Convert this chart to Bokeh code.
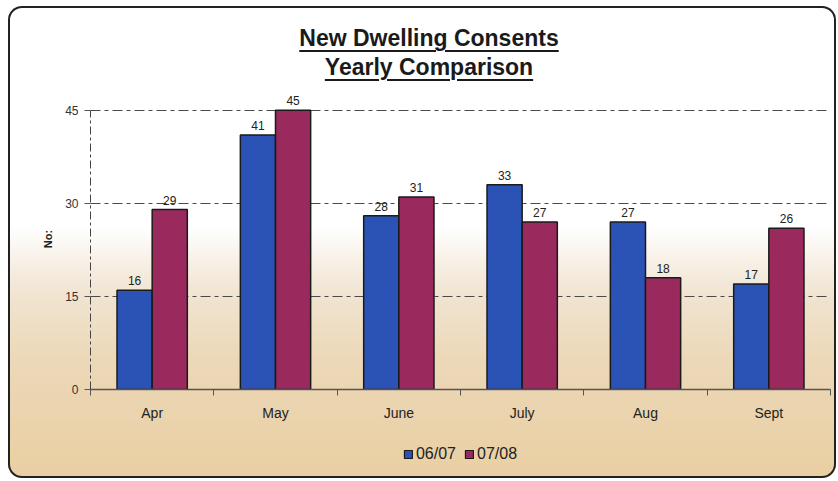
import numpy as np
from bokeh.plotting import figure
from bokeh.layouts import column
from bokeh.models import (ColumnDataSource, FixedTicker, LabelSet, Legend, LegendItem,
                          Range1d, Div)
from bokeh.core.properties import value
from bokeh.embed import file_html
from bokeh.resources import INLINE

# Monthly new dwelling consents, two consecutive years
months = ["Apr", "May", "June", "July", "Aug", "Sept"]
consents_0607 = [16, 41, 28, 33, 27, 17]
consents_0708 = [29, 45, 31, 27, 18, 26]
series_labels = ["06/07", "07/08"]
y_ticks = [0, 15, 30, 45]
title_lines = ["New Dwelling Consents", "Yearly Comparison"]

BLUE = "#2b52b5"
MAROON = "#9a2a5e"
OUTLINE = "#1a1a1a"
FONT = "Liberation Sans"

centers = np.arange(len(months)) + 0.5
bar_w = 0.285

src_a = ColumnDataSource(dict(x=centers - bar_w / 2, top=consents_0607,
                              lbl=[str(v) for v in consents_0607]))
src_b = ColumnDataSource(dict(x=centers + bar_w / 2, top=consents_0708,
                              lbl=[str(v) for v in consents_0708]))

# headline block above the chart, each line underlined
u_style = ("text-decoration: underline; text-decoration-thickness: 2px; "
           "text-underline-offset: 4px;")
title = Div(
    text="<br>".join(f'<span style="{u_style}">{t}</span>' for t in title_lines),
    width=828, height=72,
    styles={
        "font-family": FONT, "font-weight": "bold", "font-size": "23px",
        "line-height": "29px", "color": "#1a1a1a", "text-align": "center",
        "padding-top": "13px", "padding-left": "4px",
        "box-sizing": "border-box", "width": "828px",
    },
)

p = figure(width=828, height=337, x_range=Range1d(0, len(months)), y_range=Range1d(0, 48.5),
           output_backend="svg", toolbar_location=None,
           min_border_left=82, min_border_right=6, min_border_top=0, min_border_bottom=36)
p.border_fill_alpha = 0
p.background_fill_alpha = 0
p.outline_line_color = None

# bars
p.vbar(x="x", top="top", width=bar_w, source=src_a, fill_color=BLUE,
       line_color=OUTLINE, line_width=1.5)
p.vbar(x="x", top="top", width=bar_w, source=src_b, fill_color=MAROON,
       line_color=OUTLINE, line_width=1.5)

for src in (src_a, src_b):
    p.add_layout(LabelSet(x="x", y="top", text="lbl", source=src, text_align="center",
                          text_baseline="bottom", y_offset=5, text_font=value(FONT),
                          text_font_size=value("12px"), text_color=value("#222222")))

# x axis: month names at centres, tick marks between months
xa = p.xaxis[0]
xa.ticker = FixedTicker(ticks=list(centers), minor_ticks=list(range(len(months) + 1)))
xa.major_label_overrides = {float(c): m for c, m in zip(centers, months)}
xa.major_tick_line_color = None
xa.major_tick_out = 0
xa.major_tick_in = 0
xa.minor_tick_line_color = "#555555"
xa.minor_tick_out = 6
xa.minor_tick_in = 0
xa.axis_line_color = "#555555"
xa.axis_line_width = 1.5
xa.major_label_text_font = FONT
xa.major_label_text_font_size = "14px"
xa.major_label_text_color = "#222222"
xa.major_label_standoff = 9

# y axis, drawn only over 0..45
ya = p.yaxis[0]
ya.ticker = FixedTicker(ticks=y_ticks)
ya.bounds = (y_ticks[0], y_ticks[-1])
ya.axis_line_dash = "8 3 3 3"
ya.axis_line_color = "#444444"
ya.major_tick_out = 6
ya.major_tick_in = 0
ya.major_tick_line_color = "#555555"
ya.minor_tick_line_color = None
ya.major_label_text_font = FONT
ya.major_label_text_font_size = "12px"
ya.major_label_text_color = "#333333"
ya.major_label_standoff = 6
ya.axis_label = "No:"
ya.axis_label_text_font = FONT
ya.axis_label_text_font_style = "bold"
ya.axis_label_text_font_size = "11px"
ya.axis_label_text_color = "#222222"
ya.axis_label_standoff = 8

p.xgrid.visible = False
p.ygrid.grid_line_color = "#4a4a4a"
p.ygrid.grid_line_dash = "10 4 4 4"
p.ygrid.grid_line_width = 1

# legend strip under the axis: swatch renderers carry only styling, no drawable geometry
leg_fig = figure(width=828, height=53, x_range=Range1d(0, 1), y_range=Range1d(0, 1),
                 output_backend="svg", toolbar_location=None,
                 x_axis_location=None, y_axis_location=None,
                 min_border_left=82, min_border_right=6, min_border_top=5, min_border_bottom=0)
leg_fig.border_fill_alpha = 0
leg_fig.background_fill_alpha = 0
leg_fig.outline_line_color = None
leg_fig.grid.visible = False
swatch_src = ColumnDataSource(dict(x=np.array([np.nan]), top=np.array([np.nan])))
swatches = [leg_fig.vbar(x="x", top="top", width=0.1, source=swatch_src, fill_color=colour,
                         line_color=OUTLINE, line_width=1.2)
            for colour in (BLUE, MAROON)]
legend = Legend(items=[LegendItem(label=lab, renderers=[r])
                       for lab, r in zip(series_labels, swatches)],
                orientation="horizontal", location="center", background_fill_alpha=0,
                border_line_alpha=0, glyph_width=10, glyph_height=10, label_standoff=3,
                spacing=8, label_text_font=FONT, label_text_font_size="16px",
                label_text_color="#222222", margin=0, padding=4)
leg_fig.add_layout(legend)

layout = column(title, p, leg_fig, width=828, height=472, margin=(6, 2, 3, 8), spacing=0)
layout.styles = {
    "background": "linear-gradient(to bottom, #ffffff 0%, #ffffff 47%, #f7f0e6 54%, "
                  "#f0e3cf 62%, #ecd8b8 75%, #e9cfa2 100%)",
    "border-radius": "14px",
    "box-shadow": "inset 0 0 0 2px #222222",
}

open("out.html", "w").write(file_html(layout, INLINE))
